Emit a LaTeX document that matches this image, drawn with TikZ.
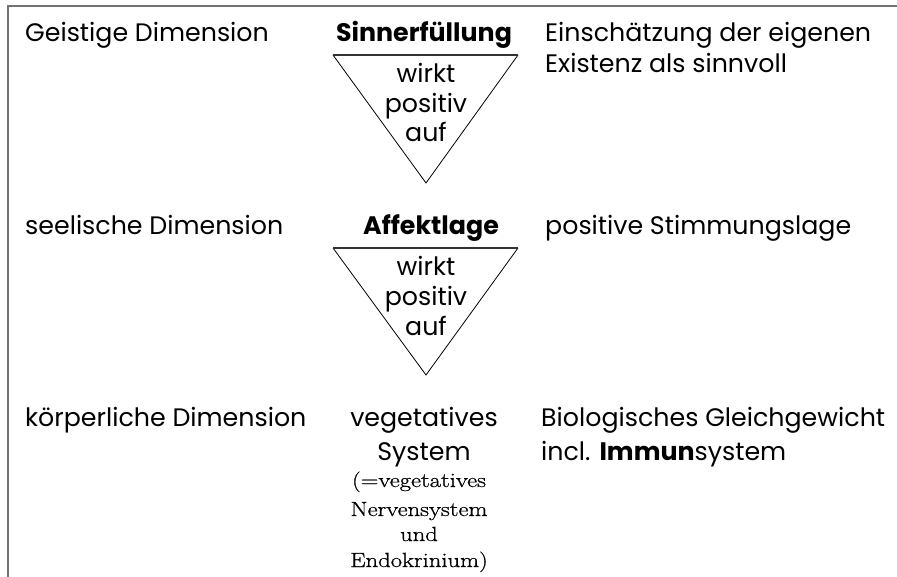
\documentclass[tikz,border=0pt]{standalone}
\usepackage{fontspec}
\setmainfont{Poppins}
\newfontfamily\serifpart[FakeStretch=1.2,FakeBold=0.8]{Latin Modern Roman}
\begin{document}
\begin{tikzpicture}[x=1pt,y=-1pt,
  lbl/.style={anchor=base west,inner sep=0pt,font=\fontsize{25.3}{30}\selectfont},
  ctr/.style={anchor=base,inner sep=0pt,font=\fontsize{25.3}{30}\selectfont},
  sml/.style={anchor=base,inner sep=0pt,font=\serifpart\fontsize{20.5}{26}\selectfont},
  tri/.style={draw=black,line width=0.8pt},
  triTop/.style={draw=black!80,line width=2.5pt},
  frame/.style={draw=black!55,line width=1.6pt}]
\useasboundingbox (0,0) rectangle (897,577);
\draw[frame] (8,577) -- (8,6) -- (897,6);
% row 1
\node[lbl] (g1) at (25,42) {Geistige Dimension};
\node[ctr] (s1) at (424,42) {\textbf{Sinnerfüllung}};
\node[lbl] (r1a) at (545,42) {Einschätzung der eigenen};
\node[lbl] (r1b) at (545,73) {Existenz als sinnvoll};
\coordinate (t1l) at (333,55);
\coordinate (t1r) at (518,55);
\coordinate (t1a) at (426,183);
\draw[tri] (t1l) -- (t1a) -- (t1r);
\draw[triTop] (t1l) -- (t1r);
\node[ctr] (w1a) at (426,83) {wirkt};
\node[ctr] (w1b) at (426,113) {positiv};
\node[ctr] (w1c) at (426,142) {auf};
% row 2
\node[lbl] (g2) at (25,235) {seelische Dimension};
\node[ctr] (s2) at (431,235) {\textbf{Affektlage}};
\node[lbl] (r2) at (545,235) {positive Stimmungslage};
\coordinate (t2l) at (333,248);
\coordinate (t2r) at (518,248);
\coordinate (t2a) at (426,375);
\draw[tri] (t2l) -- (t2a) -- (t2r);
\draw[triTop] (t2l) -- (t2r);
\node[ctr] (w2a) at (426,276) {wirkt};
\node[ctr] (w2b) at (426,306) {positiv};
\node[ctr] (w2c) at (426,335) {auf};
% row 3
\node[lbl] (g3) at (25,426) {körperliche Dimension};
\node[ctr] (v1) at (424,426) {vegetatives};
\node[ctr] (v2) at (424,460) {System};
\node[sml] (n1) at (419,487) {(=vegetatives};
\node[sml] (n2) at (419,516) {Nervensystem};
\node[sml] (n3) at (419,541) {und};
\node[sml] (n4) at (419,567) {Endokrinium)};
\node[lbl] (r3a) at (541,426) {Biologisches Gleichgewicht};
\node[lbl] (r3b) at (541,460) {incl. \textbf{Immun}system};
\end{tikzpicture}
\end{document}
